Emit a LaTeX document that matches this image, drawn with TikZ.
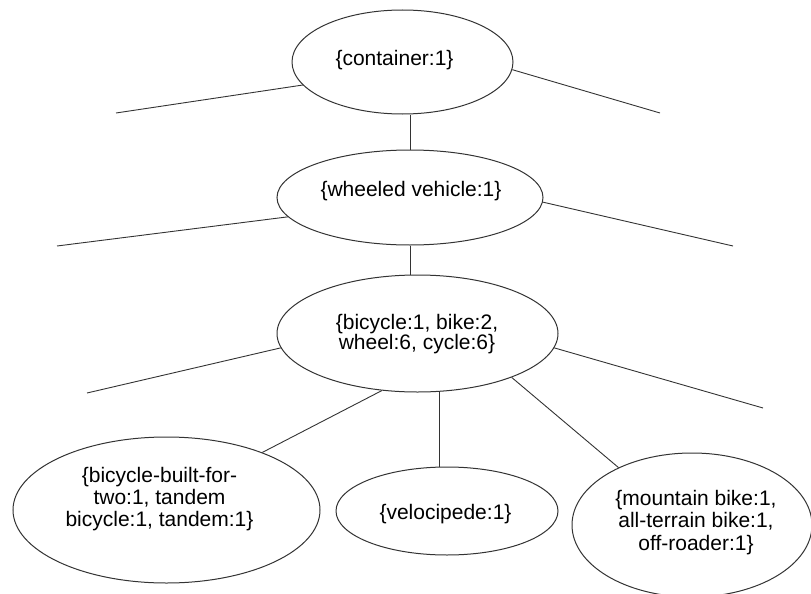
\documentclass[tikz,border=0pt]{standalone}
\usepackage{fontspec}
\setmainfont{Liberation Sans}
\usetikzlibrary{shapes.geometric}
\begin{document}
\begin{tikzpicture}[x=1pt,y=-1pt,
  bubble/.style 2 args={draw=black!80, line width=1pt, ellipse, inner sep=0pt,
    minimum width=#1, minimum height=#2},
  synset/.style={inner sep=0pt, align=center, text=black,
    font=\fontsize{21}{#1}\selectfont},
  synset/.default=22.5,
  link/.style={draw=black!80, line width=0.9pt}]
\useasboundingbox (0,0) rectangle (811,594);

% synset ellipses
\node[bubble={221}{104}] (E1) at (402.5,62) {};
\node[bubble={266}{95}]  (E2) at (410,197.5) {};
\node[bubble={281}{117}] (E3) at (417.5,333.5) {};
\node[bubble={307}{146}] (E4) at (166.5,510) {};
\node[bubble={222}{88}]  (E5) at (447,511) {};
\node[bubble={240}{144}] (E6) at (692,525) {};

% synset labels
\node[synset] (t1) at (394.5,60) {\{container:1\}};
\node[synset] (t2) at (411,191) {\{wheeled vehicle:1\}};
\node[synset=20] (t3) at (417,334) {\{bicycle:1, bike:2,\\ wheel:6, cycle:6\}};
\node[synset=22] (t4) at (159.5,499) {\{bicycle-built-for-\\ two:1, tandem\\ bicycle:1, tandem:1\}};
\node[synset] (t5) at (445.5,514) {\{velocipede:1\}};
\node[synset] (t6) at (696,522.5) {\{mountain bike:1,\\ all-terrain bike:1,\\ off-roader:1\}};

% loose ends of sibling branches
\coordinate (a1) at (116,113);
\coordinate (a2) at (660,113);
\coordinate (b1) at (57,246);
\coordinate (b2) at (733,246);
\coordinate (c1) at (87,393);
\coordinate (c2) at (763,408);

% hypernym chain
\draw[link] (E1.193) -- (a1);
\draw[link] (E1.356) -- (a2);
\draw[link] (E1.south -| E2.north) -- (E2.north);
\draw[link] (E2.189) -- (b1);
\draw[link] (E2.358) -- (b2);
\draw[link] (E2.south) -- (E2.south |- E3.north);
\draw[link] (E3.186) -- (c1);
\draw[link] (E3.354) -- (c2);

% hyponyms of bicycle
\draw[link] (E3.238) -- (E4.31);
\draw[link] (E3.291) -- (E3.291 |- E5.north);
\draw[link] (E3.335) -- (E6.142);
\end{tikzpicture}
\end{document}
